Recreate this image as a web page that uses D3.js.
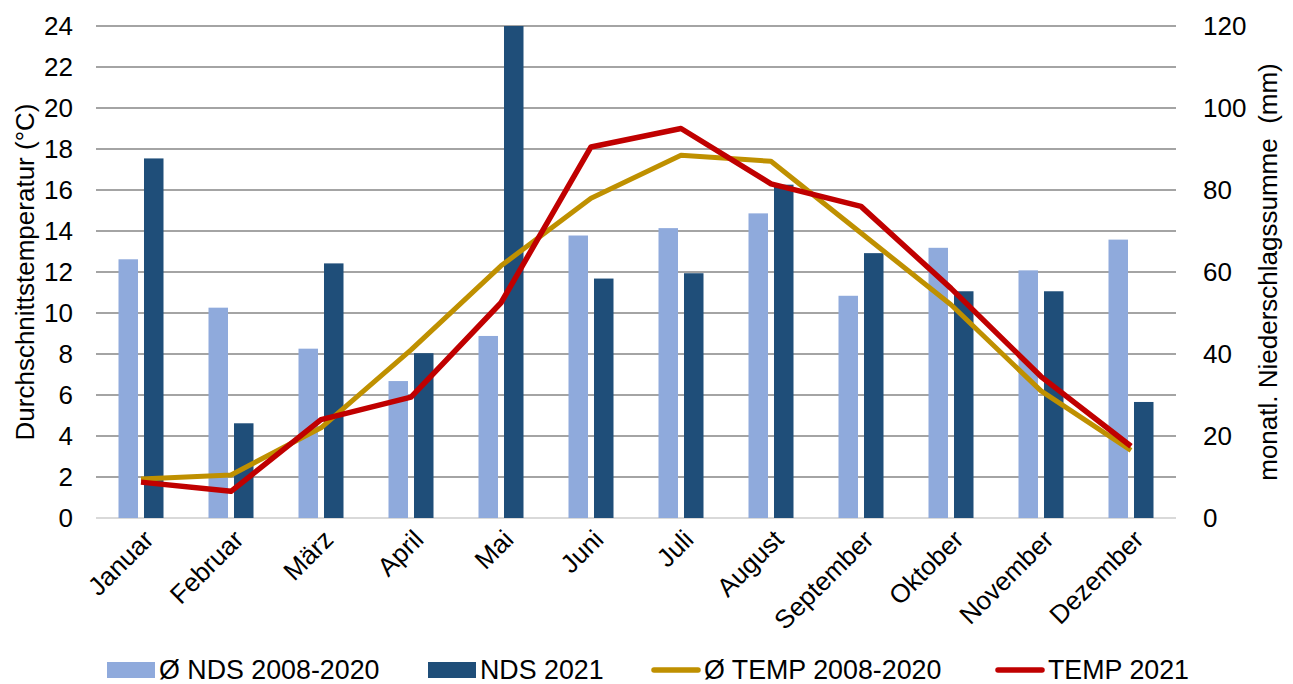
<!DOCTYPE html>
<html>
<head>
<meta charset="utf-8">
<script src="https://cdn.jsdelivr.net/npm/d3@7"></script>
<style>
  html, body { margin: 0; padding: 0; background: #fff; }
  svg { display: block; font-family: "Liberation Sans", Arial, sans-serif; }
</style>
</head>
<body>
<svg id="chart" width="1293" height="684"></svg>
<script>
// Monthly climate data
const months = ["Januar", "Februar", "März", "April", "Mai", "Juni", "Juli", "August", "September", "Oktober", "November", "Dezember"];
// precipitation (mm)
const ndsAvg  = [63.1, 51.3, 41.3, 33.4, 44.4, 68.9, 70.7, 74.3, 54.2, 65.9, 60.4, 67.9];
const nds2021 = [87.7, 23.1, 62.1, 40.2, 120, 58.4, 59.7, 81.3, 64.6, 55.3, 55.3, 28.3];
// mean temperature (°C)
const tempAvg  = [1.9, 2.1, 4.4, 8.2, 12.3, 15.6, 17.7, 17.4, 13.9, 10.4, 6.2, 3.3];
const temp2021 = [1.75, 1.3, 4.8, 5.9, 10.5, 18.1, 19.0, 16.3, 15.2, 11.2, 6.9, 3.5];
// axis ticks
const tempTicks = [0, 2, 4, 6, 8, 10, 12, 14, 16, 18, 20, 22, 24];
const ndsTicks  = [0, 20, 40, 60, 80, 100, 120];
const legendLabels = ["Ø NDS 2008-2020", "NDS 2021", "Ø TEMP 2008-2020", "TEMP 2021"];

const colors = { ndsAvg: "#8FAADC", nds2021: "#1F4E79", tempAvg: "#BF9000", temp2021: "#C00000" };

const svg = d3.select("#chart");
const plotL = 96, plotR = 1176, plotT = 26, plotB = 518;
const fs = 26;

const x0 = d3.scaleBand().domain(months).range([plotL, plotR]).paddingInner(0.5).paddingOuter(0.25);
const x1 = d3.scaleBand().domain(["avg", "y2021"]).range([0, x0.bandwidth()]).paddingInner(0.235);
const yT = d3.scaleLinear().domain([0, 24]).range([plotB, plotT]);
const yN = d3.scaleLinear().domain([0, 120]).range([plotB, plotT]);
const cx = m => x0(m) + x0.bandwidth() / 2;

// gridlines
svg.append("g").selectAll("line").data(tempTicks.filter(t => t > 0)).join("line")
  .attr("x1", plotL).attr("x2", plotR)
  .attr("y1", d => yT(d)).attr("y2", d => yT(d))
  .attr("stroke", "#868686").attr("stroke-width", 1.6);
svg.append("line").attr("x1", plotL).attr("x2", plotR).attr("y1", yT(0)).attr("y2", yT(0))
  .attr("stroke", "#d9d9d9").attr("stroke-width", 2);

// bars
const bars = svg.append("g");
bars.selectAll("rect.avg").data(months).join("rect").attr("class", "avg")
  .attr("x", m => x0(m) + x1("avg")).attr("width", x1.bandwidth())
  .attr("y", (m, i) => yN(ndsAvg[i])).attr("height", (m, i) => yN(0) - yN(ndsAvg[i]))
  .attr("fill", colors.ndsAvg);
bars.selectAll("rect.y2021").data(months).join("rect").attr("class", "y2021")
  .attr("x", m => x0(m) + x1("y2021")).attr("width", x1.bandwidth())
  .attr("y", (m, i) => yN(nds2021[i])).attr("height", (m, i) => yN(0) - yN(nds2021[i]))
  .attr("fill", colors.nds2021);

// temperature lines
const line = d3.line().x((d, i) => cx(months[i])).y(d => yT(d));
svg.append("path").datum(tempAvg).attr("d", line).attr("fill", "none")
  .attr("stroke", colors.tempAvg).attr("stroke-width", 5).attr("stroke-linejoin", "round");
svg.append("path").datum(temp2021).attr("d", line).attr("fill", "none")
  .attr("stroke", colors.temp2021).attr("stroke-width", 5.5).attr("stroke-linejoin", "round");

// left axis labels
const axL = d3.axisLeft(yT).tickValues(tempTicks).tickSize(0).tickPadding(0);
svg.append("g").attr("transform", `translate(${plotL - 23},0)`).call(axL)
  .call(g => g.select(".domain").remove())
  .selectAll("text").attr("font-size", fs).attr("fill", "#000").attr("font-family", "Liberation Sans, Arial, sans-serif");

// right axis labels
const axR = d3.axisRight(yN).tickValues(ndsTicks).tickSize(0).tickPadding(0);
svg.append("g").attr("transform", `translate(${plotR + 27},0)`).call(axR)
  .call(g => g.select(".domain").remove())
  .selectAll("text").attr("font-size", fs).attr("fill", "#000").attr("font-family", "Liberation Sans, Arial, sans-serif");

// month labels
svg.append("g").selectAll("text").data(months).join("text")
  .attr("transform", m => `translate(${cx(m) + 1},${plotB + 10}) rotate(-45)`)
  .attr("text-anchor", "end").attr("dy", "0.71em")
  .attr("font-size", fs).attr("fill", "#000")
  .text(m => m);

// axis titles
svg.append("text").attr("transform", `translate(34,${(plotT + plotB) / 2}) rotate(-90)`)
  .attr("text-anchor", "middle").attr("font-size", fs).attr("fill", "#000")
  .text("Durchschnittstemperatur (°C)");
svg.append("text").attr("transform", `translate(1277,${(plotT + plotB) / 2}) rotate(-90)`)
  .attr("text-anchor", "middle").attr("font-size", fs).attr("fill", "#000")
  .style("white-space", "pre")
  .text("monatl. Niederschlagssumme  (mm)");

// legend
const legX = [107, 428, 652, 996];
const legY = 670;
const leg = svg.append("g");
legendLabels.forEach((lab, i) => {
  const g = leg.append("g").attr("transform", `translate(${legX[i]},${legY})`);
  if (i < 2) {
    g.append("rect").attr("x", 0).attr("y", -8).attr("width", 48).attr("height", 16)
      .attr("fill", i === 0 ? colors.ndsAvg : colors.nds2021);
  } else {
    g.append("line").attr("x1", 2).attr("x2", 46).attr("y1", 0).attr("y2", 0)
      .attr("stroke", i === 2 ? colors.tempAvg : colors.temp2021).attr("stroke-width", 5.5)
      .attr("stroke-linecap", "round");
  }
  g.append("text").attr("x", 52).attr("y", 0).attr("dy", "0.35em")
    .attr("font-size", 26.8).attr("fill", "#000").text(lab);
});
</script>
</body>
</html>
